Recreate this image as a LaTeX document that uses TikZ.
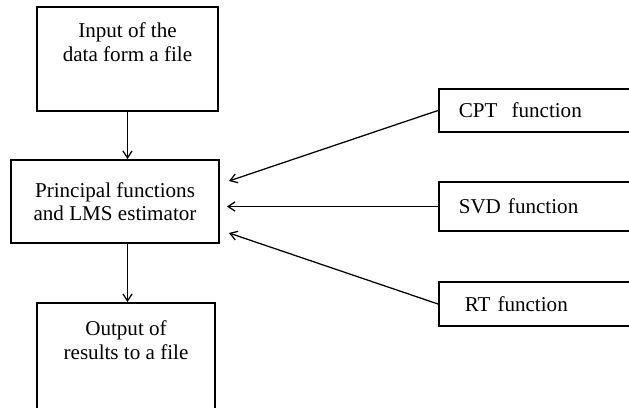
\documentclass[tikz,border=0pt]{standalone}
\usepackage{fontspec}
\setmainfont{Liberation Serif}
\usetikzlibrary{arrows,arrows.meta}
\usetikzlibrary{calc}
\usetikzlibrary{positioning}

\begin{document}
\begin{tikzpicture}[x=0.025cm,y=-0.025cm,semithick]
	\tikzstyle{every node}=[font=\fontsize{15}{16.5}\selectfont, text=black]
	\tikzstyle{filebox}=[draw=black, line width=1.3pt, inner sep=0pt]
	\tikzstyle{mainbox}=[draw=black, line width=1.3pt, minimum width=5.2cm, minimum height=2.075cm, align=center]
	\tikzstyle{funcbox}=[draw=black, line width=1.1pt, anchor=west, text width=5cm, inner xsep=0.5cm, align=left]
	\tikzstyle{link}=[-{Straight Barb[length=5pt,width=6.5pt]}, line width=0.9pt]
	\path[use as bounding box, clip] (0,0) rectangle (629,407);

	\node[filebox] (input) at (127.5,59) {\parbox[c][2.6cm][t]{4.525cm}{\centering\vspace*{0.4cm}Input of the\\data form a file}};
	\node[mainbox] (princ) at (115,201.5) {Principal functions\\and LMS estimator};
	\node[filebox] (output) at (126,363) {\parbox[c][3cm][t]{4.45cm}{\centering\vspace*{0.45cm}Output of\\results to a file}};

	\node[funcbox, minimum height=1.075cm] (cpt) at (438,110.5) {CPT\ \ function};
	\node[funcbox, minimum height=1.225cm] (svd) at (438,206.5) {SVD function};
	\node[funcbox, minimum height=1.1cm] (rt) at (438,304) {\hspace*{0.15cm}RT function};

	\draw[link] (input.south) -- (input.south |- princ.north);
	\draw[link] (input.south |- princ.south) -- (input.south |- output.north);
	\draw[link] (cpt.west) -- ([shift={(9,-20.5)}]princ.east);
	\draw[link] (svd.west) -- ([shift={(7,5)}]princ.east);
	\draw[link] (rt.west) -- ([shift={(9,31.5)}]princ.east);
\end{tikzpicture}
\end{document}
